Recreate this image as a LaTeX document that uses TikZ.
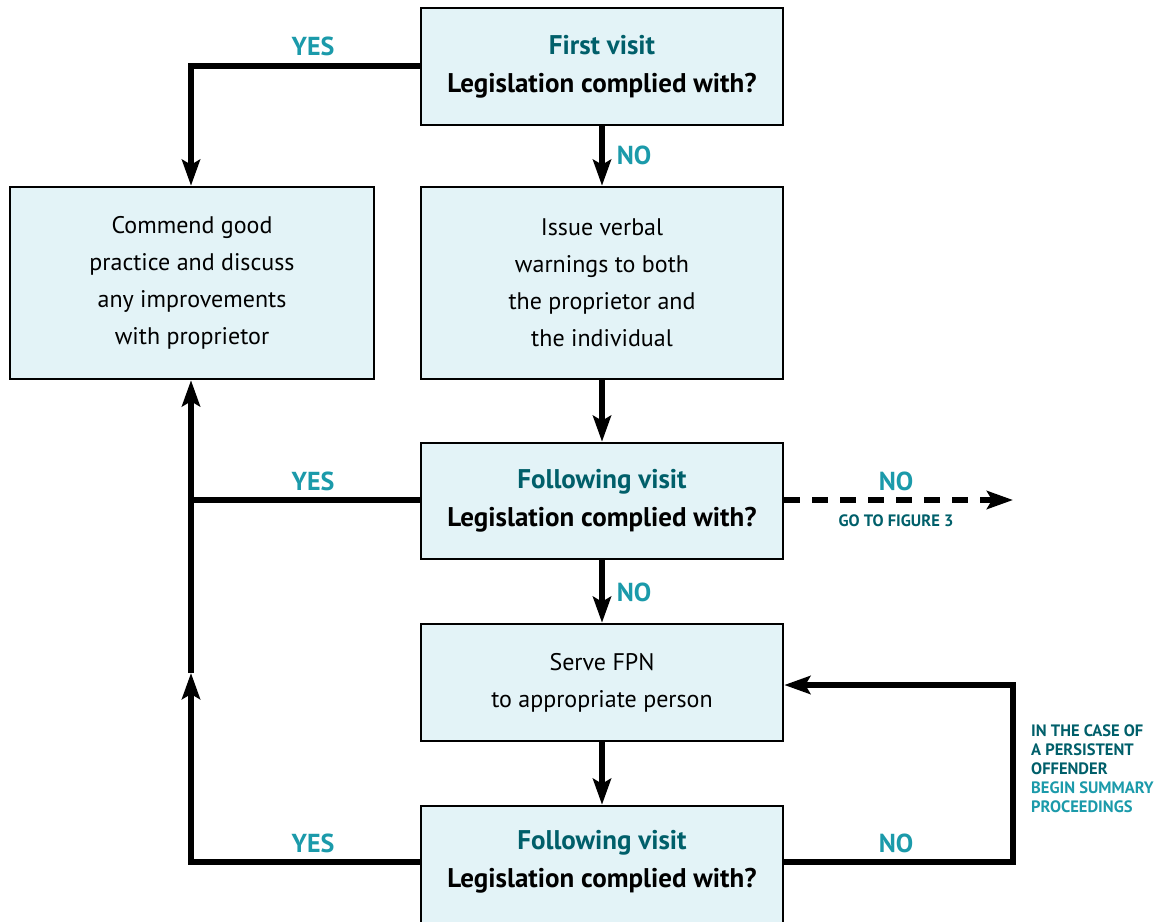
\documentclass[tikz,border=0pt]{standalone}
\usepackage{fontspec}
\setmainfont{PT Sans}
\usetikzlibrary{arrows.meta,positioning}
\definecolor{dteal}{HTML}{005F6A}
\definecolor{lteal}{HTML}{1B9AAA}
\definecolor{boxfill}{HTML}{E3F3F7}
\tikzset{
  box/.style={draw=black, line width=2.5pt, fill=boxfill, minimum width=362pt, align=center, inner sep=0pt},
  qtext/.style={font=\fontsize{27}{38}\selectfont\bfseries, align=center},
  btext/.style={font=\fontsize{24}{37}\selectfont},
  conn/.style={line width=6pt},
  arr/.style={conn, -{Stealth[length=26pt,width=18pt,inset=5pt]}},
  yn/.style={text=lteal, font=\fontsize{26}{30}\selectfont\bfseries},
  small/.style={text=dteal, font=\fontsize{16.5}{19}\selectfont\bfseries, align=left},
}
\begin{document}
\begin{tikzpicture}[x=1pt,y=-1pt]
\useasboundingbox (0,0) rectangle (1167,921);
\clip (0,0) rectangle (1167,921);
\node[box, qtext, minimum height=117pt] (q1) at (602,66.5) {\textcolor{dteal}{First visit}\\Legislation complied with?};
\node[box, btext, minimum width=364pt, minimum height=192pt] (commend) at (192,283) {Commend good\\practice and discuss\\any improvements\\with proprietor};
\node[box, btext, minimum height=192pt] (issue) at (602,283) {Issue verbal\\warnings to both\\the proprietor and\\the individual};
\node[box, qtext, minimum height=116pt] (q2) at (602,501) {\textcolor{dteal}{Following visit}\\Legislation complied with?};
\node[box, btext, minimum height=117pt] (serve) at (602,682.5) {Serve FPN\\to appropriate person};
\node[box, minimum height=150pt] (q3) at (602,881) {};
\node[qtext, anchor=center] (q3t) at (602,862) {\textcolor{dteal}{Following visit}\\Legislation complied with?};

\coordinate (c1) at (191,66);
\coordinate (lmid) at (191,500);
\coordinate (lbot) at (191,862);
\coordinate (ltip) at (191,673);
\coordinate (dend) at (1013,500);
\coordinate (rbot) at (1013,862);
\coordinate (rtop) at (1013,685);

\draw[arr] (q1.west |- c1) -- (c1) -- (commend.north -| c1);
\draw[arr] (q1.south) -- (issue.north);
\draw[arr] (issue.south) -- (q2.north);
\draw[arr] (q2.west |- lmid) -- (lmid) -- (commend.south -| lmid);
\draw[arr, dash pattern=on 16pt off 12pt] (q2.east |- dend) -- (dend);
\draw[arr] (q2.south) -- (serve.north);
\draw[arr] (serve.south) -- (q3.north);
\draw[arr] (q3.west |- lbot) -- (lbot) -- (ltip);
\draw[conn] (ltip) -- (lmid);
\draw[arr] (q3.east |- rbot) -- (rbot) -- (rtop) -- (serve.east |- rtop);

\node[yn] (y1) at (313,46) {YES};
\node[yn] (n1) at (634,155) {NO};
\node[yn] (y2) at (313,481) {YES};
\node[yn] (n2) at (896,481) {NO};
\node[small] (goto) at (896,521) {GO TO FIGURE 3};
\node[yn] (n3) at (634,592) {NO};
\node[yn] (y3) at (313,843) {YES};
\node[yn] (n4) at (896,843) {NO};
\node[small, anchor=north west, inner sep=0pt] (persist) at (1031,725) {IN THE CASE OF\\A PERSISTENT\\OFFENDER\\\textcolor{lteal}{BEGIN SUMMARY}\\\textcolor{lteal}{PROCEEDINGS}};
\end{tikzpicture}
\end{document}
